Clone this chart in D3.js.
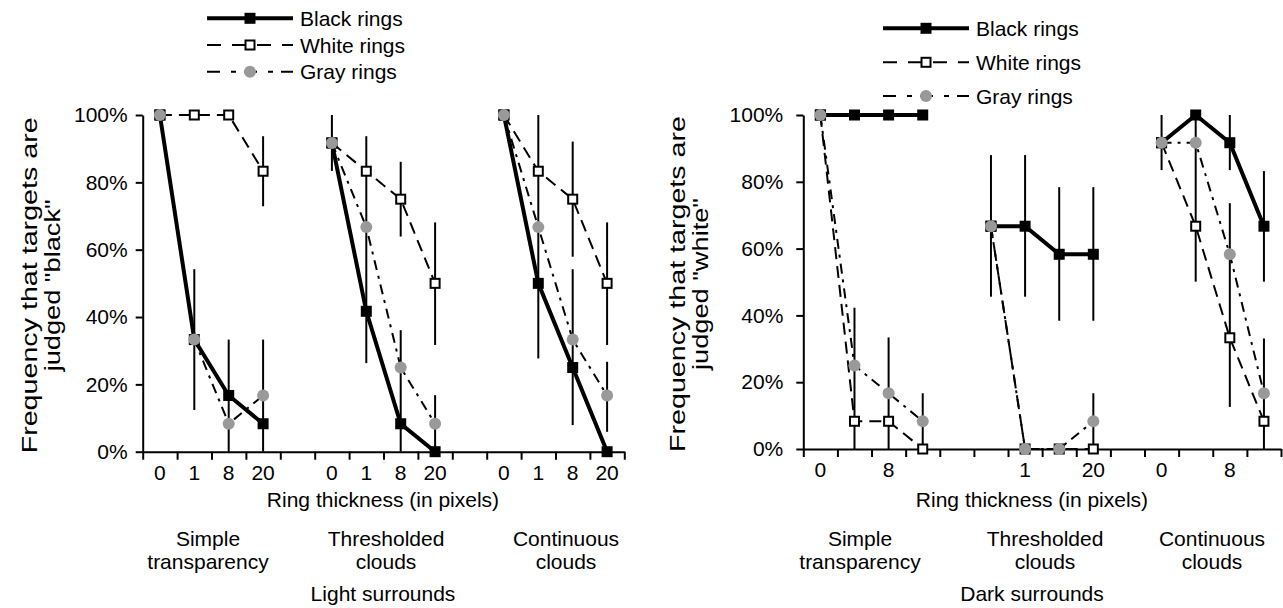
<!DOCTYPE html>
<html>
<head>
<meta charset="utf-8">
<script src="https://cdn.jsdelivr.net/npm/d3@7"></script>
<style>
  body { margin: 0; background: #fff; }
  svg { display: block; font-family: "Liberation Sans", Arial, Helvetica, sans-serif; }
</style>
</head>
<body>
<svg id="chart" width="1283" height="608"></svg>
<script>
// x categories: four ring thicknesses per stimulus type, a blank slot between types
var categories = ['0', '1', '8', '20', '', '0', '1', '8', '20', '', '0', '1', '8', '20'];
// the right panel only labels every second slot
var darkTickLabels = ['0', '', '8', '', '', '', '1', '', '20', '', '0', '', '8', ''];
var yTicks = [0, 20, 40, 60, 80, 100];
var groupNames = [['Simple', 'transparency'], ['Thresholded', 'clouds'], ['Continuous', 'clouds']];
var seriesNames = ['Black rings', 'White rings', 'Gray rings'];

// light surrounds: % judged "black" (simple x4, thresholded x4, continuous x4)
var lightBlack = [100, 33.3, 16.7, 8.3, 91.7, 41.7, 8.3, 0, 100, 50, 25, 0];
var lightWhite = [100, 100, 100, 83.3, 91.7, 83.3, 75, 50, 100, 83.3, 75, 50];
var lightGray = [100, 33.3, 8.3, 16.7, 91.7, 66.7, 25, 8.3, 100, 66.7, 33.3, 16.7];
// error bars: [slot, low, high]
var lightErrors = [
  [1, 12.4, 54.2], [2, 0, 33.3], [3, 0, 33.3], [3, 72.9, 93.7],
  [5, 83.4, 100], [6, 26.3, 93.7], [7, 63.9, 86.1], [7, 0, 36.1], [8, 31.7, 68.1], [8, 0, 16.8],
  [11, 27.7, 100], [12, 57.9, 92.1], [12, 7.9, 54.2], [13, 31.7, 68.1], [13, 5.9, 26.7]
];

// dark surrounds: % judged "white"
var darkBlack = [100, 100, 100, 100, 66.7, 66.7, 58.3, 58.3, 91.7, 100, 91.7, 66.7];
var darkWhite = [100, 8.3, 8.3, 0, 66.7, 0, 0, 0, 91.7, 66.7, 33.3, 8.3];
var darkGray = [100, 25, 16.7, 8.3, 66.7, 0, 0, 8.3, 91.7, 91.7, 58.3, 16.7];
var darkErrors = [
  [1, 0, 42.3], [2, 0, 33.4], [3, 0, 16.7],
  [5, 45.6, 88], [6, 45.6, 88], [7, 38.4, 78.4], [8, 38.4, 78.4], [8, 0, 16.7],
  [10, 83.5, 100], [11, 50.1, 100], [12, 83.5, 100], [12, 12.6, 73.6], [13, 50.1, 83.2], [13, 0, 33.1]
];

var svg = d3.select('#chart');
var fontSize = '21px';

// line / marker look of each series
var styles = {
  black: { width: 4, dash: null, legendDash: null, marker: 'filled' },
  white: { width: 2, dash: '12,7', legendDash: '14,11', marker: 'open' },
  gray: { width: 2, dash: '10,6,3,6', legendDash: '13,11,5,8', marker: 'circle' }
};

var panels = [
  {
    x0: 142.7, x1: 624.3, yTop: 115, yBottom: 451.7,
    black: lightBlack, white: lightWhite, gray: lightGray, errors: lightErrors,
    tickLabels: categories, tickPad: 8,
    yTitle: ['Frequency that targets are', 'judged  "black"'], yTitleX: [37, 60],
    groupX: [208, 386, 566], titleX: 383, surround: 'Light surrounds',
    legendX: 207, legendY: [18.3, 45, 71.7]
  },
  {
    x0: 803.3, x1: 1281, yTop: 115, yBottom: 449,
    black: darkBlack, white: darkWhite, gray: darkGray, errors: darkErrors,
    tickLabels: darkTickLabels, tickPad: 13,
    yTitle: ['Frequency that targets are', 'judged  "white"'], yTitleX: [685, 708],
    groupX: [860, 1045, 1212], titleX: 1032, surround: 'Dark surrounds',
    legendX: 883, legendY: [28.3, 62.3, 96]
  }
];
// rotated titles are stretched along their length in the original
var yTitleLength = [336, 172];

// value index -> x slot (skip the blank slot after each group of four)
function slotOf(j) { return Math.floor(j / 4) * 5 + j % 4; }

function drawMarker(sel, kind, cx, cy) {
  if (kind === 'circle') {
    sel.append('circle').attr('cx', cx).attr('cy', cy).attr('r', 6).attr('fill', '#999');
  } else if (kind === 'filled') {
    sel.append('rect').attr('x', cx - 5.5).attr('y', cy - 5.5)
      .attr('width', 11).attr('height', 11).attr('fill', '#000');
  } else {
    sel.append('rect').attr('x', cx - 4.5).attr('y', cy - 4.5)
      .attr('width', 9).attr('height', 9).attr('fill', '#fff')
      .attr('stroke', '#000').attr('stroke-width', 2);
  }
}

panels.forEach(function (p) {
  var x = d3.scaleBand().domain(d3.range(categories.length)).range([p.x0, p.x1]);
  var xEdge = d3.scaleLinear().domain([0, categories.length]).range([p.x0, p.x1]);
  var y = d3.scaleLinear().domain([0, 100]).range([p.yBottom, p.yTop]);
  var cx = function (k) { return x(k) + x.bandwidth() / 2; };

  var g = svg.append('g');

  // axes
  g.append('g')
    .attr('transform', 'translate(' + p.x0 + ',0)')
    .call(d3.axisLeft(y).tickValues(yTicks).tickFormat(function (d) { return d + '%'; })
      .tickSize(7).tickSizeOuter(0).tickPadding(p.tickPad));
  g.append('g')
    .attr('transform', 'translate(0,' + p.yBottom + ')')
    .call(d3.axisBottom(xEdge).tickValues(d3.range(categories.length + 1))
      .tickFormat('').tickSize(8).tickSizeOuter(0));
  var xLabels = g.append('g')
    .attr('transform', 'translate(0,' + p.yBottom + ')')
    .call(d3.axisBottom(x).tickSize(0).tickPadding(13)
      .tickFormat(function (k) { return p.tickLabels[k]; }));
  xLabels.select('.domain').remove();

  g.selectAll('.domain, .tick line').attr('stroke', '#000').attr('stroke-width', 2);
  g.selectAll('.tick text').attr('fill', '#000').style('font-size', fontSize)
    .style('font-family', '"Liberation Sans", Arial, sans-serif');

  // error bars
  g.append('g').selectAll('line').data(p.errors).enter().append('line')
    .attr('x1', function (d) { return cx(d[0]); })
    .attr('x2', function (d) { return cx(d[0]); })
    .attr('y1', function (d) { return y(d[1]); })
    .attr('y2', function (d) { return y(d[2]); })
    .attr('stroke', '#000').attr('stroke-width', 2);

  // lines, one segment per stimulus group
  var line = d3.line()
    .x(function (d) { return cx(d.k); })
    .y(function (d) { return y(d.v); });
  ['white', 'gray', 'black'].forEach(function (name) {
    var vals = p[name].map(function (v, j) { return { k: slotOf(j), v: v, grp: Math.floor(j / 4) }; });
    var groups = d3.groups(vals, function (d) { return d.grp; });
    g.append('g').selectAll('path').data(groups).enter().append('path')
      .attr('d', function (d) { return line(d[1]); })
      .attr('fill', 'none').attr('stroke', '#000')
      .attr('stroke-width', styles[name].width)
      .attr('stroke-dasharray', styles[name].dash);
  });

  // markers (gray drawn last, it sits on top)
  ['white', 'black', 'gray'].forEach(function (name) {
    var mg = g.append('g');
    p[name].forEach(function (v, j) { drawMarker(mg, styles[name].marker, cx(slotOf(j)), y(v)); });
  });

  // y title
  var yMid = (p.yTop + p.yBottom) / 2;
  p.yTitle.forEach(function (t, i) {
    g.append('text')
      .attr('transform', 'translate(' + p.yTitleX[i] + ',' + (yMid + 2) + ') rotate(-90)')
      .attr('text-anchor', 'middle').style('font-size', '22px')
      .attr('textLength', yTitleLength[i]).attr('lengthAdjust', 'spacingAndGlyphs')
      .text(t);
  });

  // x titles
  g.append('text').attr('x', p.titleX).attr('y', 507).attr('text-anchor', 'middle')
    .style('font-size', fontSize).text('Ring thickness (in pixels)');
  groupNames.forEach(function (lines, i) {
    lines.forEach(function (t, li) {
      g.append('text').attr('x', p.groupX[i]).attr('y', 546 + li * 23)
        .attr('text-anchor', 'middle').style('font-size', fontSize).text(t);
    });
  });
  g.append('text').attr('x', p.titleX).attr('y', 601).attr('text-anchor', 'middle')
    .style('font-size', fontSize).text(p.surround);

  // legend
  ['black', 'white', 'gray'].forEach(function (name, i) {
    var ly = p.legendY[i];
    var lg = g.append('g');
    lg.append('line').attr('x1', p.legendX).attr('x2', p.legendX + 86)
      .attr('y1', ly).attr('y2', ly)
      .attr('stroke', '#000').attr('stroke-width', styles[name].width)
      .attr('stroke-dasharray', styles[name].legendDash);
    drawMarker(lg, styles[name].marker, p.legendX + 43, ly);
    lg.append('text').attr('x', p.legendX + 93).attr('y', ly + 7.5)
      .style('font-size', fontSize).text(seriesNames[i]);
  });
});
</script>
</body>
</html>
